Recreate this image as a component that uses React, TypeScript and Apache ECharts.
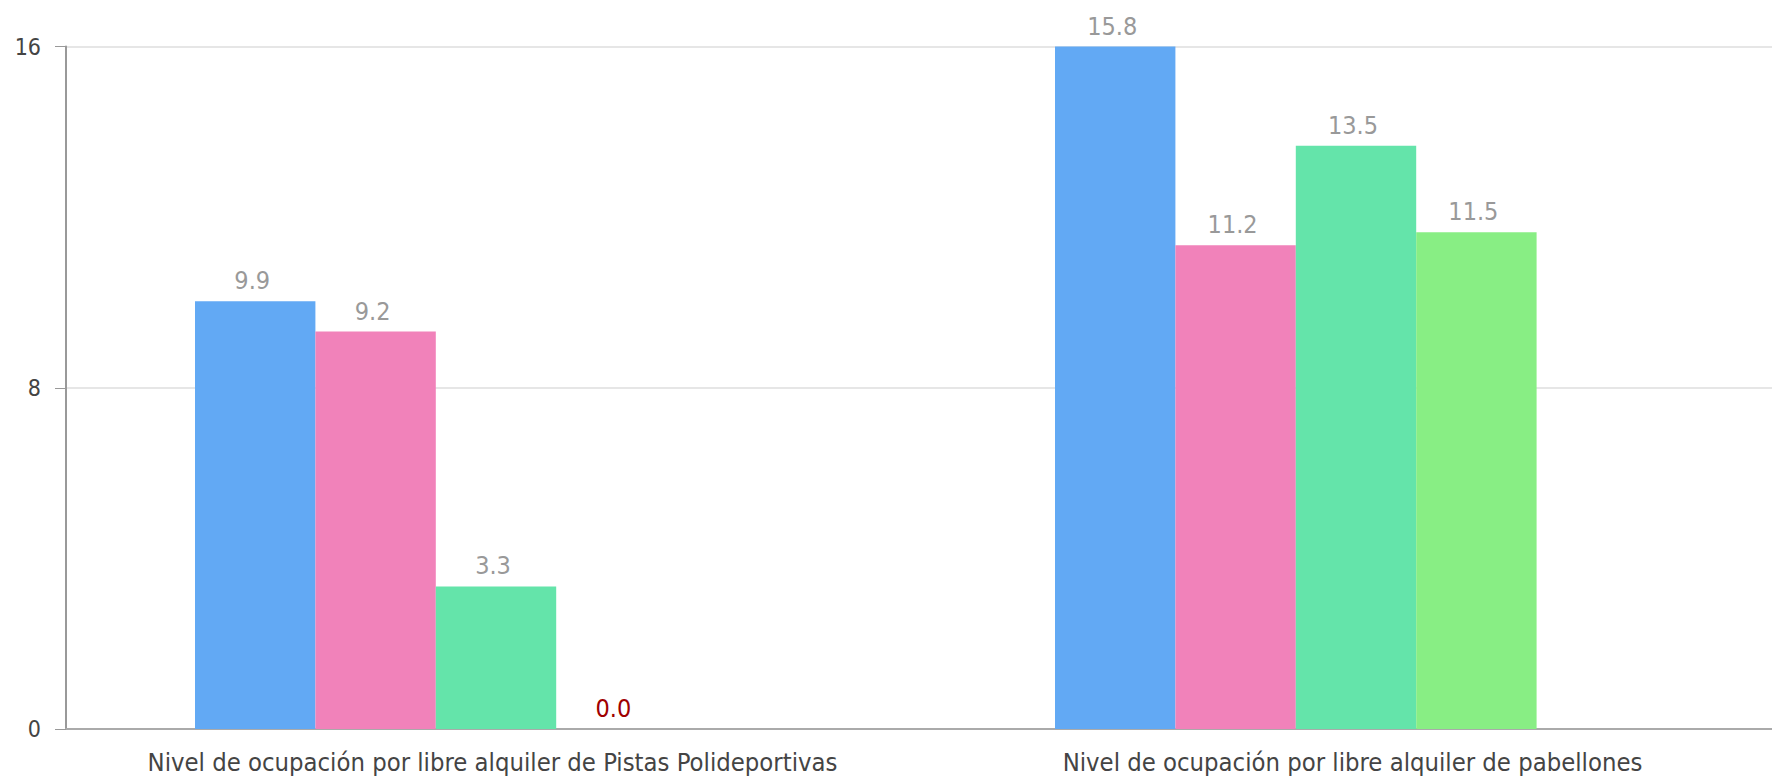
import React, { useEffect, useRef } from "react";
import * as echarts from "echarts";

const categories = [
  "Nivel de ocupación por libre alquiler de Pistas Polideportivas",
  "Nivel de ocupación por libre alquiler de pabellones",
];
const serie1 = [9.9, 15.8];
const serie2 = [9.2, 11.2];
const serie3 = [3.3, 13.5];
const serie4 = [0.0, 11.5];
const serie5: (number | null)[] = [null, null];
const colors = ["#62a9f4", "#f182ba", "#64e4aa", "#88ee84", "#f5c76b"];
const yMax = 15.8;
const yInterval = 7.9;
const FONT = "DejaVu Sans Condensed";

export default function App() {
  const ref = useRef<HTMLDivElement>(null);
  useEffect(() => {
    if (!ref.current) return;
    const chart = echarts.init(ref.current, undefined, { renderer: "svg" });
    const all = [serie1, serie2, serie3, serie4, serie5];
    const series = all.map((vals, i) => ({
      type: "bar" as const,
      name: "S" + (i + 1),
      barGap: "0%",
      barCategoryGap: "30%",
      itemStyle: { color: colors[i] },
      label: {
        show: true,
        position: "top" as const,
        distance: 8,
        offset: [-3, 0],
        color: "#999999",
        fontSize: 25,
        fontFamily: FONT,
        formatter: (p: any) => (p.value == null ? "" : Number(p.value).toFixed(1)),
      },
      data: vals.map((v) =>
        v === 0 ? { value: v, label: { color: "#a00000" } } : v
      ),
    }));
    chart.setOption({
      animation: false,
      grid: { left: 66, right: 0, top: 46.5, bottom: 47 },
      xAxis: {
        type: "category",
        data: categories,
        axisLine: { lineStyle: { color: "#aaaaaa", width: 2 } },
        axisTick: { show: false },
        axisLabel: {
          interval: 0,
          color: "#444444",
          fontSize: 25.4,
          fontFamily: FONT,
          margin: 20,
          padding: [0, 7, 0, 0],
        },
      },
      yAxis: {
        type: "value",
        min: 0,
        max: yMax,
        interval: yInterval,
        axisLine: { show: true, lineStyle: { color: "#999999", width: 2 } },
        axisTick: { show: true, length: 11, lineStyle: { color: "#999999" } },
        splitLine: { lineStyle: { color: "#e6e6e6", width: 2 } },
        axisLabel: {
          color: "#444444",
          fontSize: 23,
          fontFamily: FONT,
          margin: 25,
          formatter: (v: number) => String(Math.round(v)),
        },
      },
      series,
    });
    return () => chart.dispose();
  }, []);
  return (
    <div
      style={{
        position: "absolute",
        left: 0,
        top: 0,
        width: 1772,
        height: 776,
        overflow: "hidden",
      }}
    >
      <div ref={ref} style={{ width: 1786, height: 776 }} />
    </div>
  );
}
